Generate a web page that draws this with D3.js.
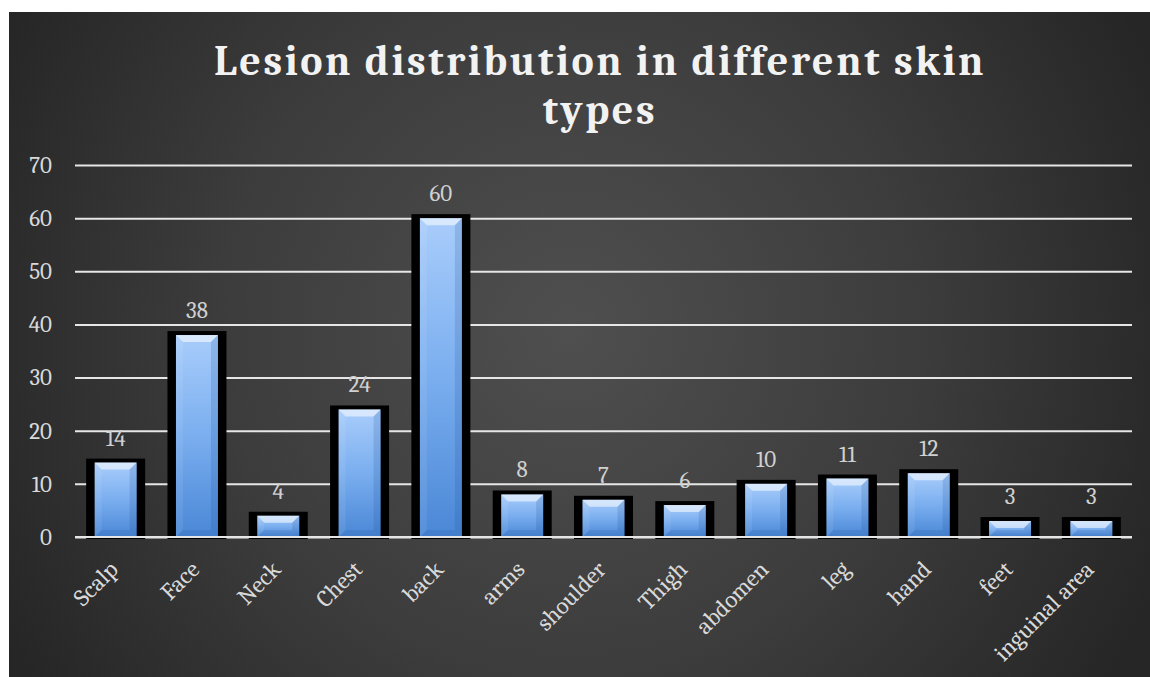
<!DOCTYPE html>
<html>
<head>
<meta charset="utf-8">
<script src="https://cdn.jsdelivr.net/npm/d3@7/dist/d3.min.js"></script>
<style>
  html, body { margin: 0; padding: 0; background: #ffffff; }
  svg { display: block; }
</style>
</head>
<body>
<script>
// Lesion counts per body site
const categories = ["Scalp", "Face", "Neck", "Chest", "back", "arms", "shoulder", "Thigh", "abdomen", "leg", "hand", "feet", "inguinal area"];
const lesions = [14, 38, 4, 24, 60, 8, 7, 6, 10, 11, 12, 3, 3];
const yTicks = [0, 10, 20, 30, 40, 50, 60, 70];
const titleLines = ["Lesion distribution in different skin", "types"];

const W = 1150, H = 677;
const frame = { x: 9, y: 12, w: 1141, h: 665 };
const plot = { left: 75, right: 1132, top: 165, bottom: 537 };
const serif = "Cambria, 'DejaVu Serif', 'Liberation Serif', serif";

const svg = d3.select("body").append("svg")
  .attr("width", W).attr("height", H);

const defs = svg.append("defs");

// dark backdrop, lighter toward the middle
const bg = defs.append("radialGradient").attr("id", "bg")
  .attr("gradientUnits", "userSpaceOnUse")
  .attr("cx", 570).attr("cy", 330).attr("r", 640);
bg.append("stop").attr("offset", 0).attr("stop-color", "#4f4f4f");
bg.append("stop").attr("offset", 0.55).attr("stop-color", "#3c3c3c");
bg.append("stop").attr("offset", 1).attr("stop-color", "#262626");

// bar body: light blue on top to deeper blue at the base
const barGrad = defs.append("linearGradient").attr("id", "barFill")
  .attr("x1", 0).attr("y1", 0).attr("x2", 0).attr("y2", 1);
barGrad.append("stop").attr("offset", 0).attr("stop-color", "#a9cdfb");
barGrad.append("stop").attr("offset", 0.5).attr("stop-color", "#7aaeef");
barGrad.append("stop").attr("offset", 1).attr("stop-color", "#4a87d6");

svg.append("rect")
  .attr("x", frame.x).attr("y", frame.y)
  .attr("width", frame.w).attr("height", frame.h)
  .attr("fill", "url(#bg)");

// title
const title = svg.append("text")
  .attr("text-anchor", "middle")
  .attr("fill", "#f2f2f2")
  .attr("font-family", serif)
  .attr("font-weight", "bold")
  .attr("font-size", 42)
  .attr("letter-spacing", 2.6);
title.selectAll("tspan").data(titleLines).join("tspan")
  .attr("x", 600)
  .attr("y", (d, i) => 75 + i * 49)
  .text(d => d);

const x = d3.scaleBand().domain(categories)
  .range([plot.left, plot.right]).paddingInner(0).paddingOuter(0);
const y = d3.scaleLinear().domain([0, 70]).range([plot.bottom, plot.top]);

// horizontal gridlines + y labels
const yAxis = d3.axisLeft(y).tickValues(yTicks).tickSize(-(plot.right - plot.left)).tickPadding(23);
const yg = svg.append("g")
  .attr("transform", `translate(${plot.left},0)`)
  .call(yAxis);
yg.select(".domain").remove();
yg.selectAll(".tick line").attr("stroke", "#e6e6e6").attr("stroke-width", 2);
yg.selectAll(".tick text")
  .attr("fill", "#d9d9d9")
  .attr("font-family", serif)
  .attr("font-size", 23);

// bars
const inner = 42, outer = 59, bev = 7;
const bars = svg.append("g").selectAll("g.bar")
  .data(categories.map((c, i) => ({ c, v: lesions[i] })))
  .join("g").attr("class", "bar");

bars.append("rect")
  .attr("x", d => x(d.c) + x.bandwidth() / 2 - outer / 2)
  .attr("y", d => y(d.v) - 4)
  .attr("width", outer)
  .attr("height", d => y(0) - y(d.v) + 6)
  .attr("fill", "#000");

bars.append("rect")
  .attr("x", d => x(d.c) + x.bandwidth() / 2 - inner / 2)
  .attr("y", d => y(d.v))
  .attr("width", inner)
  .attr("height", d => y(0) - y(d.v))
  .attr("fill", "url(#barFill)");

// bevel facets
function facet(d, side) {
  const l = x(d.c) + x.bandwidth() / 2 - inner / 2, r = l + inner;
  const t = y(d.v), b = y(0);
  const h = Math.min(bev, (b - t) / 2);
  if (side === "top") return [[l, t], [r, t], [r - bev, t + h], [l + bev, t + h]];
  if (side === "bottom") return [[l, b], [l + bev, b - h], [r - bev, b - h], [r, b]];
  if (side === "left") return [[l, t], [l + bev, t + h], [l + bev, b - h], [l, b]];
  return [[r, t], [r - bev, t + h], [r - bev, b - h], [r, b]];
}
const facetStyle = {
  top: ["#ffffff", 0.55],
  left: ["#ffffff", 0.08],
  right: ["#1c4f93", 0.18],
  bottom: ["#1c4f93", 0.15]
};
Object.keys(facetStyle).forEach(side => {
  bars.append("polygon")
    .attr("points", d => facet(d, side).map(p => p.join(",")).join(" "))
    .attr("fill", facetStyle[side][0])
    .attr("fill-opacity", facetStyle[side][1]);
});

// baseline
svg.append("line")
  .attr("x1", plot.left).attr("x2", plot.right)
  .attr("y1", y(0)).attr("y2", y(0))
  .attr("stroke", "#e6e6e6").attr("stroke-width", 2);

// value labels
svg.append("g").selectAll("text")
  .data(categories.map((c, i) => ({ c, v: lesions[i] })))
  .join("text")
  .attr("x", d => x(d.c) + x.bandwidth() / 2)
  .attr("y", d => y(d.v) - 17)
  .attr("text-anchor", "middle")
  .attr("fill", "#d0d0d0")
  .attr("font-family", serif)
  .attr("font-size", 23)
  .text(d => d.v);

// category labels, slanted
svg.append("g").selectAll("text")
  .data(categories)
  .join("text")
  .attr("transform", d => `translate(${x(d) + x.bandwidth() / 2 - 2},${plot.bottom + 28}) rotate(-45)`)
  .attr("text-anchor", "end")
  .attr("dy", "0.35em")
  .attr("fill", "#d9d9d9")
  .attr("font-family", serif)
  .attr("font-size", 24)
  .text(d => d);
</script>
</body>
</html>
